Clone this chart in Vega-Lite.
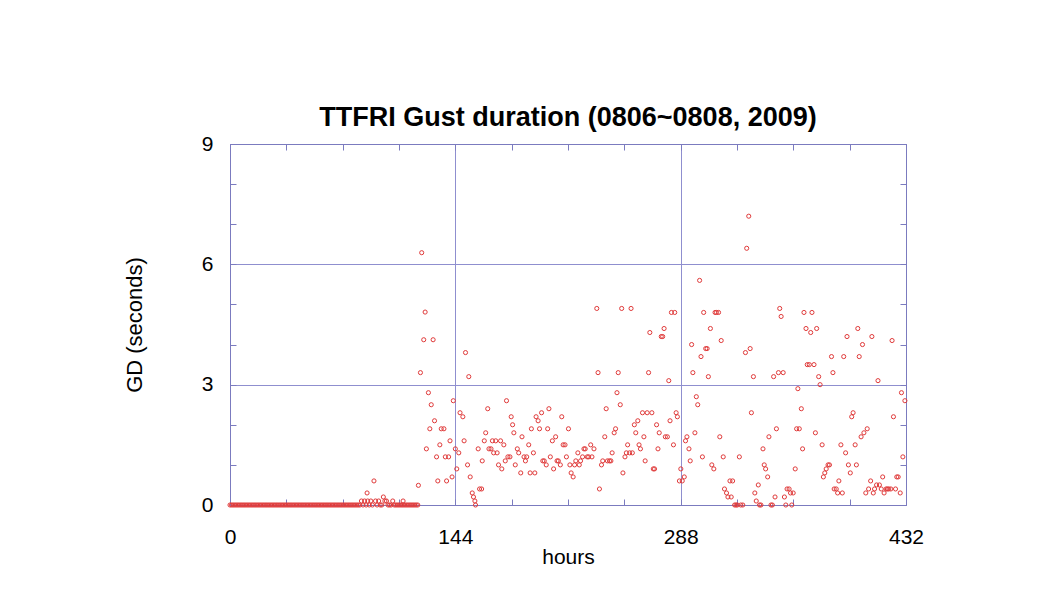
{
  "$schema": "https://vega.github.io/schema/vega-lite/v6.json",
  "width": 676,
  "height": 361,
  "autosize": {"type": "none"},
  "padding": {"left": 230, "top": 144, "right": 149, "bottom": 96},
  "background": "white",
  "config": {"view": {"stroke": "#7b7bbf", "strokeWidth": 1}, "font": "Liberation Sans"},
  "title": {"text": "TTFRI Gust duration (0806~0808, 2009)", "font": "Liberation Sans", "fontSize": 27, "fontWeight": "bold", "color": "#000000", "anchor": "middle", "baseline": "alphabetic", "offset": -20},
  "data": {"values": [
    {"h":0,"gd":0},{"h":1,"gd":0},{"h":2,"gd":0},{"h":3,"gd":0},{"h":4,"gd":0},{"h":5,"gd":0},{"h":6,"gd":0},{"h":7,"gd":0},{"h":8,"gd":0},{"h":9,"gd":0},
    {"h":10,"gd":0},{"h":11,"gd":0},{"h":12,"gd":0},{"h":13,"gd":0},{"h":14,"gd":0},{"h":15,"gd":0},{"h":16,"gd":0},{"h":17,"gd":0},{"h":18,"gd":0},{"h":19,"gd":0},
    {"h":20,"gd":0},{"h":21,"gd":0},{"h":22,"gd":0},{"h":23,"gd":0},{"h":24,"gd":0},{"h":25,"gd":0},{"h":26,"gd":0},{"h":27,"gd":0},{"h":28,"gd":0},{"h":29,"gd":0},
    {"h":30,"gd":0},{"h":31,"gd":0},{"h":32,"gd":0},{"h":33,"gd":0},{"h":34,"gd":0},{"h":35,"gd":0},{"h":36,"gd":0},{"h":37,"gd":0},{"h":38,"gd":0},{"h":39,"gd":0},
    {"h":40,"gd":0},{"h":41,"gd":0},{"h":42,"gd":0},{"h":43,"gd":0},{"h":44,"gd":0},{"h":45,"gd":0},{"h":46,"gd":0},{"h":47,"gd":0},{"h":48,"gd":0},{"h":49,"gd":0},
    {"h":50,"gd":0},{"h":51,"gd":0},{"h":52,"gd":0},{"h":53,"gd":0},{"h":54,"gd":0},{"h":55,"gd":0},{"h":56,"gd":0},{"h":57,"gd":0},{"h":58,"gd":0},{"h":59,"gd":0},
    {"h":60,"gd":0},{"h":61,"gd":0},{"h":62,"gd":0},{"h":63,"gd":0},{"h":64,"gd":0},{"h":65,"gd":0},{"h":66,"gd":0},{"h":67,"gd":0},{"h":68,"gd":0},{"h":69,"gd":0},
    {"h":70,"gd":0},{"h":71,"gd":0},{"h":72,"gd":0},{"h":73,"gd":0},{"h":74,"gd":0},{"h":75,"gd":0},{"h":76,"gd":0},{"h":77,"gd":0},{"h":78,"gd":0},{"h":79,"gd":0},
    {"h":80,"gd":0},{"h":81,"gd":0},{"h":82,"gd":0},{"h":83,"gd":0},{"h":84,"gd":0.1},{"h":85,"gd":0},{"h":86,"gd":0.1},{"h":87,"gd":0},{"h":87.6,"gd":0.3},{"h":88,"gd":0.1},
    {"h":89,"gd":0},{"h":90,"gd":0.1},{"h":91,"gd":0},{"h":92,"gd":0.6},{"h":93,"gd":0.1},{"h":94,"gd":0},{"h":95,"gd":0.1},{"h":96,"gd":0},{"h":97,"gd":0},{"h":98,"gd":0.2},
    {"h":99,"gd":0.1},{"h":100,"gd":0.1},{"h":101,"gd":0},{"h":102,"gd":0},{"h":103,"gd":0},{"h":104,"gd":0.1},{"h":105,"gd":0},{"h":106,"gd":0},{"h":107,"gd":0},{"h":108,"gd":0},
    {"h":109,"gd":0},{"h":110,"gd":0},{"h":110.6,"gd":0.1},{"h":111,"gd":0},{"h":112,"gd":0},{"h":113,"gd":0},{"h":114,"gd":0},{"h":115,"gd":0},{"h":116,"gd":0},{"h":117,"gd":0},
    {"h":118,"gd":0},{"h":119,"gd":0},{"h":120,"gd":0},
    {"h":120.4,"gd":0.49},{"h":121.7,"gd":3.3},{"h":122.5,"gd":6.29},{"h":123.8,"gd":4.12},{"h":124.7,"gd":4.81},{"h":125.5,"gd":1.4},{"h":126.8,"gd":2.8},{"h":127.7,"gd":1.9},{"h":128.6,"gd":2.5},{"h":129.8,"gd":4.12},
    {"h":130.7,"gd":2.1},{"h":132.0,"gd":1.2},{"h":132.8,"gd":0.6},{"h":134.1,"gd":1.5},{"h":135.0,"gd":1.9},{"h":136.7,"gd":1.9},{"h":137.6,"gd":1.2},{"h":138.4,"gd":0.6},{"h":139.7,"gd":1.2},{"h":140.6,"gd":1.6},
    {"h":141.9,"gd":0.7},{"h":142.7,"gd":2.6},{"h":144.0,"gd":1.4},{"h":144.9,"gd":0.9},{"h":146.2,"gd":1.3},{"h":147.0,"gd":2.3},{"h":148.8,"gd":2.2},{"h":149.6,"gd":1.6},{"h":150.5,"gd":3.8},{"h":151.8,"gd":1.0},
    {"h":152.6,"gd":3.2},{"h":153.5,"gd":0.7},{"h":154.8,"gd":0.3},{"h":155.6,"gd":0.2},{"h":156.5,"gd":0.1},{"h":156.9,"gd":0.0},{"h":158.6,"gd":1.4},{"h":159.5,"gd":0.4},{"h":160.8,"gd":0.4},{"h":161.2,"gd":1.1},
    {"h":162.5,"gd":1.6},{"h":163.4,"gd":1.8},{"h":164.7,"gd":2.4},{"h":165.5,"gd":1.4},{"h":166.8,"gd":1.4},{"h":167.7,"gd":1.6},{"h":168.5,"gd":1.3},{"h":169.8,"gd":1.6},{"h":170.7,"gd":1.3},{"h":171.6,"gd":1.0},
    {"h":172.9,"gd":1.6},{"h":173.7,"gd":0.9},{"h":175.0,"gd":1.5},{"h":175.9,"gd":1.1},{"h":176.7,"gd":2.6},{"h":177.6,"gd":1.2},{"h":178.9,"gd":1.2},{"h":179.7,"gd":2.2},{"h":180.6,"gd":2.0},{"h":181.4,"gd":1.8},
    {"h":182.3,"gd":1.0},{"h":183.6,"gd":1.4},{"h":184.5,"gd":1.3},{"h":185.8,"gd":0.8},{"h":186.6,"gd":1.7},{"h":187.9,"gd":1.2},{"h":188.8,"gd":1.1},{"h":189.6,"gd":1.2},{"h":190.9,"gd":1.5},{"h":191.8,"gd":0.8},
    {"h":192.6,"gd":1.9},{"h":193.9,"gd":1.3},{"h":194.8,"gd":0.8},{"h":195.6,"gd":2.2},{"h":196.9,"gd":2.1},{"h":197.8,"gd":1.9},{"h":199.1,"gd":2.3},{"h":199.9,"gd":1.1},{"h":200.8,"gd":1.1},{"h":202.1,"gd":1.0},
    {"h":203.0,"gd":1.9},{"h":203.8,"gd":2.4},{"h":204.7,"gd":1.2},{"h":206.0,"gd":1.6},{"h":206.8,"gd":0.9},{"h":208.1,"gd":1.7},{"h":209.0,"gd":1.1},{"h":209.8,"gd":1.1},{"h":211.1,"gd":1.0},{"h":212.0,"gd":2.2},
    {"h":212.9,"gd":1.5},{"h":214.1,"gd":1.5},{"h":215.0,"gd":1.2},{"h":216.3,"gd":1.9},{"h":217.2,"gd":1.0},{"h":218.0,"gd":0.8},{"h":219.3,"gd":0.7},{"h":220.2,"gd":1.0},{"h":221.0,"gd":1.1},{"h":222.3,"gd":1.3},
    {"h":223.2,"gd":1.0},{"h":224.0,"gd":1.1},{"h":225.3,"gd":1.2},{"h":226.2,"gd":1.4},{"h":227.0,"gd":1.4},{"h":228.3,"gd":1.2},{"h":229.2,"gd":1.2},{"h":230.5,"gd":1.5},{"h":231.3,"gd":1.2},{"h":232.6,"gd":1.4},
    {"h":234.4,"gd":4.9},{"h":235.2,"gd":3.3},{"h":236.1,"gd":0.4},{"h":237.4,"gd":1.0},{"h":238.2,"gd":1.1},{"h":239.5,"gd":1.7},{"h":240.4,"gd":2.4},{"h":241.2,"gd":1.1},{"h":242.5,"gd":1.1},{"h":243.4,"gd":1.1},
    {"h":244.2,"gd":1.3},{"h":245.5,"gd":1.8},{"h":246.4,"gd":1.9},{"h":247.3,"gd":2.8},{"h":248.1,"gd":3.3},{"h":249.4,"gd":2.5},{"h":250.3,"gd":4.9},{"h":251.1,"gd":0.8},{"h":252.4,"gd":1.2},{"h":253.3,"gd":1.3},
    {"h":254.1,"gd":1.5},{"h":255.4,"gd":1.3},{"h":256.3,"gd":4.9},{"h":257.1,"gd":1.3},{"h":258.4,"gd":2.0},{"h":259.3,"gd":1.8},{"h":260.6,"gd":2.1},{"h":261.4,"gd":1.5},{"h":262.3,"gd":1.4},{"h":263.6,"gd":2.3},
    {"h":264.5,"gd":1.7},{"h":265.3,"gd":1.1},{"h":266.6,"gd":2.3},{"h":267.5,"gd":3.3},{"h":268.3,"gd":4.3},{"h":269.6,"gd":2.3},{"h":270.5,"gd":0.9},{"h":271.3,"gd":0.9},{"h":272.6,"gd":2.0},{"h":273.5,"gd":1.4},
    {"h":274.3,"gd":1.8},{"h":275.6,"gd":4.2},{"h":276.5,"gd":4.2},{"h":277.4,"gd":4.4},{"h":278.2,"gd":1.7},{"h":279.5,"gd":1.7},{"h":280.4,"gd":3.1},{"h":281.2,"gd":2.1},{"h":282.1,"gd":4.8},{"h":283.4,"gd":1.5},
    {"h":284.2,"gd":4.8},{"h":285.1,"gd":2.3},{"h":285.9,"gd":2.2},{"h":287.2,"gd":0.6},{"h":288.1,"gd":0.9},{"h":289.0,"gd":0.6},{"h":290.3,"gd":0.7},{"h":291.1,"gd":1.6},{"h":292.0,"gd":1.7},{"h":293.3,"gd":1.4},
    {"h":294.1,"gd":1.1},{"h":295.0,"gd":4.0},{"h":295.8,"gd":3.3},{"h":297.1,"gd":1.8},{"h":298.0,"gd":2.7},{"h":298.9,"gd":2.5},{"h":300.1,"gd":5.6},{"h":301.0,"gd":3.7},{"h":301.9,"gd":1.2},{"h":302.7,"gd":4.8},
    {"h":304.0,"gd":3.9},{"h":304.9,"gd":3.9},{"h":305.7,"gd":3.2},{"h":307.0,"gd":4.4},{"h":307.9,"gd":1.0},{"h":309.2,"gd":0.9},{"h":310.0,"gd":4.8},{"h":310.9,"gd":4.8},{"h":312.2,"gd":4.8},{"h":313.0,"gd":1.7},
    {"h":313.9,"gd":4.1},{"h":315.2,"gd":1.2},{"h":316.0,"gd":0.4},{"h":317.3,"gd":0.3},{"h":318.2,"gd":0.2},{"h":319.5,"gd":0.6},{"h":320.3,"gd":0.2},{"h":321.2,"gd":0.6},{"h":322.5,"gd":0},{"h":323.4,"gd":0},
    {"h":324.2,"gd":0},{"h":325.5,"gd":1.2},{"h":326.4,"gd":0},{"h":327.7,"gd":0},{"h":329.4,"gd":3.8},{"h":330.2,"gd":6.4},{"h":331.5,"gd":7.2},{"h":332.4,"gd":3.9},{"h":333.2,"gd":2.3},{"h":334.5,"gd":3.2},
    {"h":335.4,"gd":0.3},{"h":336.3,"gd":0.1},{"h":337.6,"gd":0.5},{"h":338.4,"gd":0},{"h":339.3,"gd":0},{"h":340.6,"gd":1.4},{"h":341.4,"gd":1.0},{"h":342.3,"gd":0.9},{"h":343.6,"gd":0.7},{"h":344.4,"gd":1.7},
    {"h":345.7,"gd":0},{"h":346.6,"gd":0},{"h":347.4,"gd":3.2},{"h":348.3,"gd":0.2},{"h":349.2,"gd":1.9},{"h":350.5,"gd":3.3},{"h":351.3,"gd":4.9},{"h":352.2,"gd":4.7},{"h":353.5,"gd":3.3},{"h":354.3,"gd":0.2},
    {"h":355.2,"gd":0},{"h":356.0,"gd":0.4},{"h":357.3,"gd":0.4},{"h":358.2,"gd":0.3},{"h":359.0,"gd":0},{"h":359.9,"gd":0.3},{"h":361.2,"gd":0.9},{"h":362.1,"gd":1.9},{"h":362.9,"gd":2.9},{"h":363.8,"gd":1.9},
    {"h":365.1,"gd":2.4},{"h":365.9,"gd":1.4},{"h":366.8,"gd":4.8},{"h":368.1,"gd":4.4},{"h":368.9,"gd":3.5},{"h":370.2,"gd":3.5},{"h":371.1,"gd":4.3},{"h":371.9,"gd":4.8},{"h":373.2,"gd":3.5},{"h":374.1,"gd":1.8},
    {"h":374.9,"gd":4.4},{"h":376.2,"gd":3.2},{"h":377.1,"gd":3.0},{"h":378.4,"gd":1.5},{"h":379.2,"gd":0.7},{"h":380.1,"gd":0.8},{"h":381.0,"gd":0.9},{"h":382.2,"gd":1.0},{"h":383.1,"gd":1.0},{"h":384.4,"gd":3.7},
    {"h":385.3,"gd":3.3},{"h":386.1,"gd":0.4},{"h":387.4,"gd":0.4},{"h":388.3,"gd":0.3},{"h":389.1,"gd":0.6},{"h":390.4,"gd":1.5},{"h":391.3,"gd":0.3},{"h":392.2,"gd":3.7},{"h":393.4,"gd":1.3},{"h":394.3,"gd":4.2},
    {"h":395.2,"gd":1.0},{"h":396.4,"gd":0.8},{"h":397.3,"gd":2.2},{"h":398.2,"gd":2.3},{"h":399.5,"gd":1.5},{"h":400.3,"gd":1.0},{"h":401.2,"gd":4.4},{"h":402.1,"gd":3.7},{"h":403.3,"gd":1.7},{"h":404.2,"gd":4.0},
    {"h":405.1,"gd":1.8},{"h":406.3,"gd":0.3},{"h":407.2,"gd":1.9},{"h":408.1,"gd":0.4},{"h":409.4,"gd":0.6},{"h":410.2,"gd":4.2},{"h":411.1,"gd":0.3},{"h":411.9,"gd":0.4},{"h":413.2,"gd":0.5},{"h":414.1,"gd":3.1},
    {"h":415.0,"gd":0.5},{"h":416.2,"gd":0.4},{"h":417.1,"gd":0.7},{"h":418.0,"gd":0.3},{"h":419.3,"gd":0.4},{"h":420.1,"gd":0.4},{"h":421.0,"gd":0.4},{"h":422.3,"gd":0.4},{"h":423.1,"gd":4.1},{"h":424.0,"gd":2.2},
    {"h":425.3,"gd":0.4},{"h":426.1,"gd":0.7},{"h":427.0,"gd":0.7},{"h":428.3,"gd":0.3},{"h":429.1,"gd":2.8},{"h":430.0,"gd":1.2},{"h":431.3,"gd":2.6}
  ]},
  "layer": [
    {
      "mark": {"type": "point", "shape": "circle", "filled": false, "color": "#e03a3a", "size": 17, "strokeWidth": 1, "opacity": 1},
      "encoding": {
        "x": {"field": "h", "type": "quantitative", "scale": {"domain": [0, 432], "nice": false, "zero": false},
          "axis": {"orient": "bottom", "values": [0,36,72,108,144,180,216,252,288,324,360,396,432],
            "labelExpr": "datum.value % 144 === 0 ? datum.label : ''",
            "labelFlush": false, "labelOverlap": false, "labelBound": false,
            "tickSize": -6, "tickColor": "#7b7bbf", "tickWidth": 1, "domainColor": "#7b7bbf",
            "grid": true, "gridColor": "#8f8fcf", "gridWidth": 1,
            "gridOpacity": {"condition": {"test": "datum.value === 144 || datum.value === 288", "value": 1}, "value": 0},
            "labelFont": "Liberation Sans", "labelFontSize": 21, "labelColor": "#000000", "labelPadding": 27,
            "title": "hours", "titleFont": "Liberation Sans", "titleFontSize": 21, "titleFontWeight": "normal", "titleColor": "#000000",
            "titleX": 338, "titleY": 58, "titleBaseline": "alphabetic", "titleAlign": "center"}},
        "y": {"field": "gd", "type": "quantitative", "scale": {"domain": [0, 9], "nice": false, "zero": true},
          "axis": {"orient": "left", "values": [0,1,2,3,4,5,6,7,8,9],
            "labelExpr": "datum.value % 3 === 0 ? datum.label : ''",
            "labelOverlap": false, "labelBound": false, "labelFlush": false,
            "tickSize": -6, "tickColor": "#7b7bbf", "tickWidth": 1, "domainColor": "#7b7bbf",
            "grid": true, "gridColor": "#8f8fcf", "gridWidth": 1,
            "gridOpacity": {"condition": {"test": "datum.value === 3 || datum.value === 6", "value": 1}, "value": 0},
            "labelFont": "Liberation Sans", "labelFontSize": 21, "labelColor": "#000000", "labelPadding": 23,
            "title": "GD (seconds)", "titleFont": "Liberation Sans", "titleFontSize": 22, "titleFontWeight": "normal", "titleColor": "#000000",
            "titleX": -96, "titleY": 180.5, "titleAngle": -90, "titleBaseline": "middle", "titleAlign": "center"}}
      }
    },
    {
      "mark": {"type": "point", "opacity": 0},
      "encoding": {
        "x": {"field": "h", "type": "quantitative",
          "axis": {"orient": "top", "values": [0,36,72,108,144,180,216,252,288,324,360,396,432], "labels": false, "grid": false,
            "tickSize": -6, "tickColor": "#7b7bbf", "domainColor": "#7b7bbf", "title": null}},
        "y": {"field": "gd", "type": "quantitative",
          "axis": {"orient": "right", "values": [0,1,2,3,4,5,6,7,8,9], "labels": false, "grid": false,
            "tickSize": -6, "tickColor": "#7b7bbf", "domainColor": "#7b7bbf", "title": null}}
      }
    }
  ],
  "resolve": {"axis": {"x": "independent", "y": "independent"}}
}
